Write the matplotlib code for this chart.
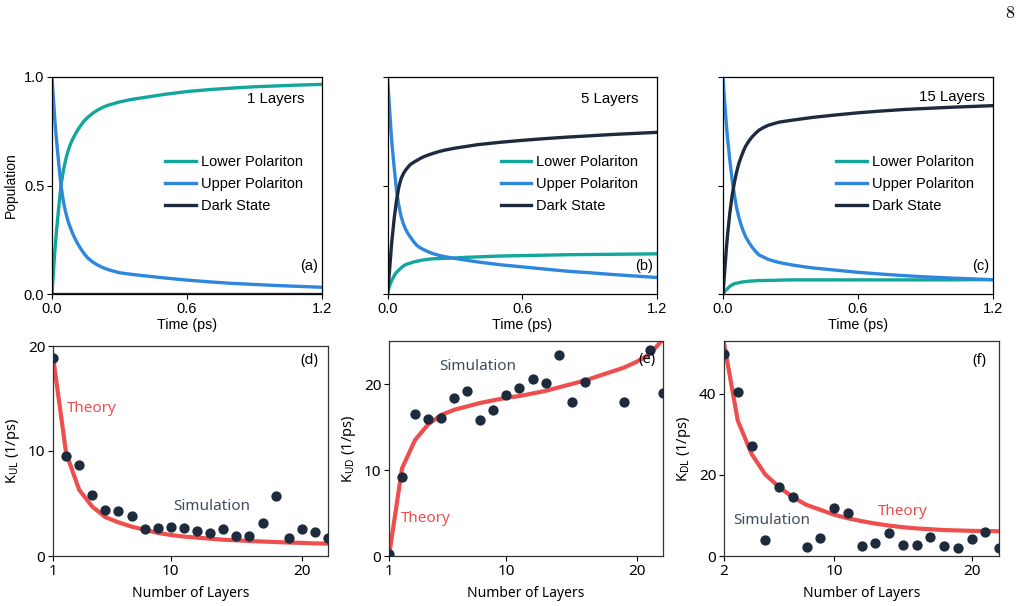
import matplotlib
matplotlib.use('Agg')
import matplotlib.pyplot as plt

plt.rcParams['font.family'] = ['Liberation Sans', 'DejaVu Sans']
plt.rcParams['mathtext.fontset'] = 'custom'
plt.rcParams['mathtext.rm'] = 'Noto Sans'
plt.rcParams['font.size'] = 10

# colours
c_lp = '#12a69c'
c_up = '#2f86dd'
c_ds = '#1e2b3c'
c_red = '#ee4e4e'
c_sim = '#3e4b5e'

# population dynamics
t = [0, 0.005, 0.01, 0.015, 0.02, 0.03, 0.04, 0.05,
     0.06, 0.07, 0.08, 0.09, 0.1, 0.115, 0.13, 0.145,
     0.16, 0.18, 0.2, 0.225, 0.25, 0.3, 0.35, 0.4,
     0.5, 0.6, 0.7, 0.8, 0.9, 1.0, 1.1, 1.2]

up_1 = [1.0, 0.92, 0.84, 0.77, 0.71, 0.60, 0.50, 0.43,
        0.38, 0.34, 0.31, 0.283, 0.26, 0.23, 0.205, 0.183,
        0.165, 0.148, 0.135, 0.122, 0.112, 0.098, 0.091, 0.085,
        0.074, 0.064, 0.056, 0.049, 0.044, 0.039, 0.035, 0.031]
lp_1 = [0.0, 0.08, 0.16, 0.23, 0.29, 0.40, 0.50, 0.565,
        0.615, 0.655, 0.685, 0.71, 0.73, 0.757, 0.78, 0.80,
        0.815, 0.832, 0.846, 0.86, 0.87, 0.885, 0.896, 0.904,
        0.92, 0.933, 0.942, 0.949, 0.955, 0.959, 0.963, 0.966]
ds_1 = [0.0] * 32

up_5 = [1.0, 0.92, 0.84, 0.76, 0.69, 0.58, 0.48, 0.41,
        0.36, 0.325, 0.30, 0.28, 0.265, 0.243, 0.225, 0.213,
        0.205, 0.195, 0.187, 0.179, 0.173, 0.164, 0.156, 0.148,
        0.135, 0.125, 0.115, 0.105, 0.098, 0.09, 0.083, 0.076]
lp_5 = [0.0, 0.022, 0.04, 0.053, 0.065, 0.085, 0.10, 0.11,
        0.12, 0.128, 0.135, 0.139, 0.142, 0.147, 0.151, 0.154,
        0.157, 0.16, 0.162, 0.163, 0.164, 0.166, 0.169, 0.171,
        0.175, 0.177, 0.179, 0.181, 0.182, 0.183, 0.184, 0.185]
ds_5 = [0.0, 0.06, 0.12, 0.19, 0.25, 0.35, 0.43, 0.49,
        0.53, 0.553, 0.57, 0.583, 0.595, 0.606, 0.615, 0.624,
        0.632, 0.64, 0.647, 0.655, 0.662, 0.672, 0.68, 0.688,
        0.699, 0.708, 0.716, 0.723, 0.729, 0.735, 0.74, 0.745]

up_15 = [1.0, 0.92, 0.85, 0.78, 0.72, 0.62, 0.53, 0.46,
         0.40, 0.355, 0.32, 0.29, 0.265, 0.238, 0.215, 0.196,
         0.18, 0.17, 0.16, 0.152, 0.145, 0.135, 0.127, 0.12,
         0.11, 0.10, 0.092, 0.085, 0.079, 0.074, 0.07, 0.066]
lp_15 = [0.0, 0.008, 0.015, 0.02, 0.025, 0.035, 0.042, 0.047,
         0.05, 0.052, 0.054, 0.056, 0.057, 0.059, 0.06, 0.061,
         0.062, 0.062, 0.063, 0.063, 0.064, 0.065, 0.065, 0.065,
         0.065, 0.065, 0.065, 0.065, 0.065, 0.065, 0.066, 0.066]
ds_15 = [0.0, 0.07, 0.14, 0.21, 0.27, 0.37, 0.45, 0.51,
         0.56, 0.60, 0.63, 0.657, 0.68, 0.705, 0.725, 0.741,
         0.755, 0.767, 0.777, 0.785, 0.792, 0.80, 0.807, 0.814,
         0.825, 0.835, 0.843, 0.85, 0.855, 0.86, 0.864, 0.868]

# rate constants vs number of layers
layers = list(range(1, 23))
kul_sim = [18.9, 9.5, 8.7, 5.8, 4.35, 4.25, 3.85, 2.6, 2.65, 2.75, 2.65, 2.35,
           2.2, 2.55, 1.9, 1.95, 3.1, 5.7, 1.7, 2.55, 2.3, 1.7]
kul_th = [19.0, 9.8, 6.3, 4.7, 3.7, 3.2, 2.8, 2.5, 2.2, 2.0, 1.85, 1.75,
          1.65, 1.55, 1.5, 1.43, 1.38, 1.33, 1.28, 1.25, 1.2, 1.18]

kud_layers = [1, 2, 3, 4, 5, 6, 7, 8, 9, 10, 11, 12, 13, 14, 15, 16, 19, 21, 22]
kud_sim = [0.27, 9.2, 16.5, 15.9, 16.1, 18.4, 19.2, 15.8, 17.0, 18.75, 19.5, 20.6,
           20.1, 23.4, 17.9, 20.2, 17.9, 24.0, 18.9]
kud_th = [0.0, 10.2, 13.5, 15.3, 16.4, 17.0, 17.4, 17.8, 18.1, 18.4, 18.6, 18.9,
          19.2, 19.6, 20.0, 20.4, 20.9, 21.4, 21.9, 22.6, 23.5, 25.2]

kdl_layers = list(range(2, 23))
kdl_sim = [49.9, 40.4, 27.2, 3.85, 17.0, 14.5, 2.2, 4.4, 11.8, 10.7, 2.4, 3.2,
           5.6, 2.6, 2.6, 4.6, 2.4, 2.05, 4.2, 6.0, 2.0]
kdl_th = [52.5, 33.4, 25.2, 20.1, 17.0, 14.5, 12.6, 11.4, 10.2, 9.3, 8.6, 8.0,
          7.5, 7.1, 6.8, 6.6, 6.4, 6.3, 6.2, 6.15, 6.1]

W, H = 1022, 606
fig = plt.figure(figsize=(W / 100, H / 100), dpi=100)


def box(l, r, top, bot):
    return [l / W, 1 - bot / H, (r - l) / W, (bot - top) / H]


top_axes = [fig.add_axes(box(52, 322, 77, 294)),
            fig.add_axes(box(387.5, 657, 77, 294)),
            fig.add_axes(box(723, 993, 77, 294))]
pops = [(lp_1, up_1, ds_1), (lp_5, up_5, ds_5), (lp_15, up_15, ds_15)]
titles = ['1 Layers', '5 Layers', '15 Layers']
title_xy = [(0.937, 0.90), (0.933, 0.90), (0.97, 0.909)]
letters = ['(a)', '(b)', '(c)']

for i, ax in enumerate(top_axes):
    lp, up, ds = pops[i]
    ax.plot(t, lp, color=c_lp, lw=2.4, label='Lower Polariton')
    ax.plot(t, up, color=c_up, lw=2.4, label='Upper Polariton')
    ax.plot(t, ds, color=c_ds, lw=2.4, label='Dark State')
    ax.set_xlim(0, 1.2)
    ax.set_ylim(0, 1)
    ax.set_xticks([0, 0.6, 1.2])
    ax.set_xticklabels(['0.0', '0.6', '1.2'])
    ax.set_yticks([0, 0.5, 1.0])
    if i == 0:
        ax.set_yticklabels(['0.0', '0.5', '1.0'])
        ax.set_ylabel('Population', fontsize=10, labelpad=4)
    else:
        ax.set_yticklabels([])
    ax.set_xlabel('Time (ps)', fontsize=10.3, labelpad=2)
    ax.tick_params(labelsize=10.5, length=3.5, width=0.8, pad=2)
    ax.legend(loc='center left', bbox_to_anchor=(0.42, 0.507), frameon=False,
              fontsize=10.5, handlelength=2.1, handletextpad=0.35,
              labelspacing=0.55, borderpad=0, borderaxespad=0)
    ax.text(title_xy[i][0], title_xy[i][1], titles[i], transform=ax.transAxes,
            ha='right', va='center', fontsize=10.8)
    ax.text(0.985, 0.13, letters[i], transform=ax.transAxes,
            ha='right', va='center', fontsize=10.5)
    for s in ax.spines.values():
        s.set_linewidth(0.9)

bot_axes = [fig.add_axes(box(53, 328, 346, 556)),
            fig.add_axes(box(389, 663, 341, 556)),
            fig.add_axes(box(724, 999, 341, 556))]

# (d)
ax = bot_axes[0]
ax.plot(layers, kul_th, color=c_red, lw=3)
ax.scatter(layers, kul_sim, s=55, color=c_ds, zorder=3, linewidths=0)
ax.set_xlim(1, 22)
ax.set_ylim(0, 20)
ax.set_xticks([1, 10, 20])
ax.set_yticks([0, 10, 20])
ax.set_ylabel(r'K$_\mathregular{UL}$ (1/ps)')
ax.text(0.05, 0.70, 'Theory', transform=ax.transAxes, color=c_red,
        family='Noto Sans', fontsize=11, va='center')
ax.text(0.437, 0.235, 'Simulation', transform=ax.transAxes, color=c_sim,
        family='Noto Sans', fontsize=11, va='center')
ax.text(0.964, 0.929, '(d)', transform=ax.transAxes, ha='right', va='center',
        family='Noto Sans', fontsize=10.5)

# (e)
ax = bot_axes[1]
ax.plot(layers, kud_th, color=c_red, lw=3)
ax.scatter(kud_layers, kud_sim, s=55, color=c_ds, zorder=3, linewidths=0)
ax.set_xlim(1, 22)
ax.set_ylim(0, 25)
ax.set_xticks([1, 10, 20])
ax.set_yticks([0, 10, 20])
ax.set_ylabel(r'K$_\mathregular{UD}$ (1/ps)')
ax.text(0.044, 0.175, 'Theory', transform=ax.transAxes, color=c_red,
        family='Noto Sans', fontsize=11, va='center')
ax.text(0.184, 0.88, 'Simulation', transform=ax.transAxes, color=c_sim,
        family='Noto Sans', fontsize=11, va='center')
ax.text(0.971, 0.912, '(e)', transform=ax.transAxes, ha='right', va='center',
        family='Noto Sans', fontsize=10.5)

# (f)
ax = bot_axes[2]
ax.plot(kdl_layers, kdl_th, color=c_red, lw=3)
ax.scatter(kdl_layers, kdl_sim, s=55, color=c_ds, zorder=3, linewidths=0)
ax.set_xlim(2, 22)
ax.set_ylim(0, 53)
ax.set_xticks([2, 10, 20])
ax.set_yticks([0, 20, 40])
ax.set_ylabel(r'K$_\mathregular{DL}$ (1/ps)')
ax.text(0.561, 0.209, 'Theory', transform=ax.transAxes, color=c_red,
        family='Noto Sans', fontsize=11, va='center')
ax.text(0.032, 0.167, 'Simulation', transform=ax.transAxes, color=c_sim,
        family='Noto Sans', fontsize=11, va='center')
ax.text(0.955, 0.908, '(f)', transform=ax.transAxes, ha='right', va='center',
        family='Noto Sans', fontsize=10.5)

for ax in bot_axes:
    ax.set_xlabel('Number of Layers', family='Noto Sans', fontsize=10, labelpad=5)
    ax.yaxis.label.set_family('Noto Sans')
    ax.yaxis.label.set_fontsize(10.5)
    ax.tick_params(labelsize=11, length=3.5, width=0.8, pad=2)
    for lab in ax.get_xticklabels() + ax.get_yticklabels():
        lab.set_family('Noto Sans')
    for s in ax.spines.values():
        s.set_linewidth(0.9)
        s.set_color('#333333')

fig.text(1010 / W, 1 - 13 / H, '8', ha='center', va='center',
         family='cmr10', fontsize=13)

fig.savefig('out.png', dpi=100)
